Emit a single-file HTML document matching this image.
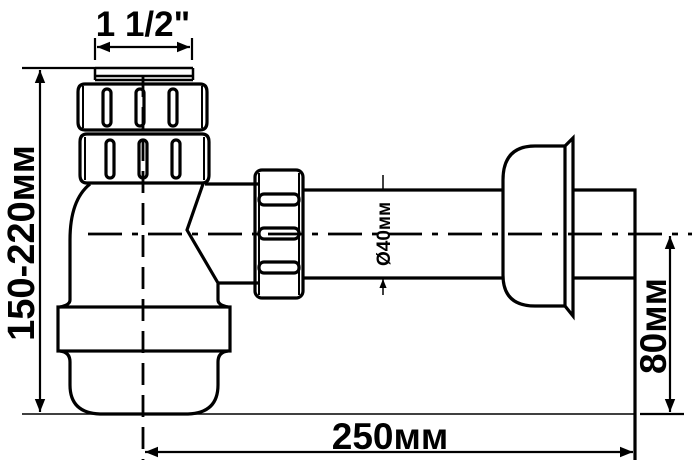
<!DOCTYPE html>
<html><head><meta charset="utf-8"><style>html,body{margin:0;padding:0;background:#fff}svg{display:block}</style></head>
<body>
<svg width="692" height="468" viewBox="0 0 692 468" xmlns="http://www.w3.org/2000/svg" font-family="Liberation Sans, sans-serif" font-weight="bold">
<defs>
<marker id="a" viewBox="0 0 10 10" refX="10" refY="5" markerWidth="6" markerHeight="6" orient="auto-start-reverse"><path d="M0,1 L10,5 L0,9 z" fill="#000"/></marker>
</defs>
<g fill="none" stroke="#000" stroke-width="3.2">
<path d="M95,68 H193 M95,68 V80 M193,68 V80 M95,76 H193 M95,80 H193" stroke-width="2.5"/>
<path d="M85,84 H200 Q207,84 207,92 V122 Q207,130 200,130 H85 Q78,130 78,122 V92 Q78,84 85,84 Z"/>
<path d="M83,86 V128 M202,86 V128" stroke-width="2"/>
<rect x="103" y="89" width="8" height="37" rx="4"/><rect x="136" y="89" width="8" height="37" rx="4"/><rect x="169" y="89" width="8" height="37" rx="4"/>
<path d="M87,134 H202 Q209,134 209,142 V175 Q209,183 202,183 H87 Q80,183 80,175 V142 Q80,134 87,134 Z"/>
<path d="M85,137 V180 M204,137 V180" stroke-width="2"/>
<rect x="106" y="140" width="8" height="38" rx="4"/><rect x="139" y="140" width="8" height="38" rx="4"/><rect x="172" y="140" width="8" height="38" rx="4"/>
<path d="M90,184 Q70,200 70,240 V300 Q70,305 60,307"/>
<path d="M203,184 L187,230 L218,283 V300 Q218,305 228,307"/>
<path d="M205,184 H258 M218,283 H258"/>
<rect x="58" y="307" width="172" height="44"/>
<path d="M60,351 Q70,352 70,362 V385 Q70,413 100,414 H188 Q218,413 218,385 V362 Q218,352 228,351"/>
<rect x="255" y="170" width="48" height="128" rx="7"/>
<path d="M259,173 V295 M299,173 V295" stroke-width="2"/>
<rect x="259" y="194" width="40" height="11" rx="5"/><rect x="259" y="228" width="40" height="11" rx="5"/><rect x="259" y="262" width="40" height="11" rx="5"/>
<path d="M303,190 H502 M303,278 H502 M572,190 H635 V460 M572,278 H635"/>
<path d="M565,146 H535 Q503,146 503,180 V275 Q503,306 535,306 H565 Z"/>
<path d="M565,146 L573,138 V316 L565,306" />
</g>
<g stroke="#000" stroke-width="2.8" fill="none">
<path d="M143,75 V460" stroke-dasharray="22,10"/>
<path d="M88,234 H692" stroke-dasharray="34,10,6,10"/>
</g>
<g stroke="#000" stroke-width="2.2" fill="none">
<path d="M22,68 H95"/>
<path d="M22,414 H635" stroke-width="1.5"/>
<path d="M40,70 V412" marker-start="url(#a)" marker-end="url(#a)"/>
<path d="M95,38 V60 M192,38 V60"/>
<path d="M97,47 H190" marker-start="url(#a)" marker-end="url(#a)"/>
<path d="M145,452 H633" marker-start="url(#a)" marker-end="url(#a)"/>
<path d="M670,236 V412" marker-start="url(#a)" marker-end="url(#a)"/>
<path d="M640,414 H684"/>
<path d="M383,175 V189 M383,295 V279" stroke-width="1.5" marker-end="url(#a)"/>
</g>
<text x="143" y="36" font-size="35" text-anchor="middle">1 1/2"</text>
<text x="390" y="449" font-size="37" text-anchor="middle">250мм</text>
<text transform="translate(34,243) rotate(-90)" font-size="38" text-anchor="middle">150-220мм</text>
<text transform="translate(666,326) rotate(-90)" font-size="37" text-anchor="middle">80мм</text>
<text transform="translate(390,234) rotate(-90)" font-size="19" text-anchor="middle">Ø40мм</text>
</svg>
</body></html>
